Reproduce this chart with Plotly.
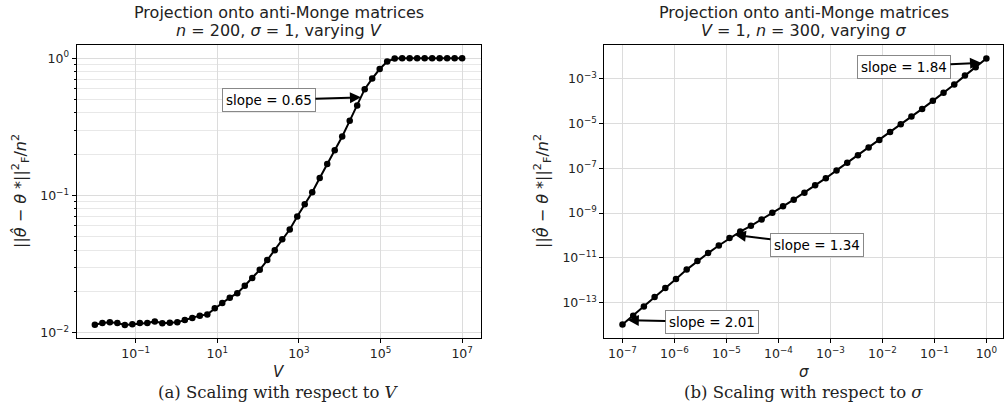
import numpy as np
import plotly.graph_objects as go

# ---------------- data ----------------
V_values = list(np.logspace(-2, 7, 50))
err_V_log10 = [-1.942, -1.930, -1.925, -1.930, -1.944, -1.939, -1.930, -1.930, -1.918, -1.932,
               -1.927, -1.925, -1.908, -1.893, -1.876, -1.867, -1.823, -1.784, -1.745, -1.712,
               -1.658, -1.602, -1.542, -1.471, -1.399, -1.319, -1.248, -1.154, -1.064, -0.976,
               -0.873, -0.771, -0.671, -0.570, -0.456, -0.344, -0.225, -0.148, -0.078, -0.024,
               -0.002, 0.0, 0.0, 0.0, 0.0, 0.0, 0.0, 0.0, 0.0, 0.0]
err_V = [10 ** v for v in err_V_log10]

sigma_values = list(np.logspace(-7, 0, 35))
err_s_log10 = [-13.99, -13.59, -13.18, -12.76, -12.35, -11.95, -11.53, -11.15, -10.79, -10.45,
               -10.12, -9.83, -9.57, -9.29, -8.99, -8.70, -8.40, -8.09, -7.76, -7.44,
               -7.09, -6.75, -6.41, -6.07, -5.73, -5.37, -5.03, -4.68, -4.34, -3.98,
               -3.62, -3.25, -2.85, -2.47, -2.08]
err_s = [10 ** v for v in err_s_log10]

# tick labels
xV_tickvals = [1e-1, 1e1, 1e3, 1e5, 1e7]
xV_ticktext = ["10<sup>−1</sup>", "10<sup>1</sup>", "10<sup>3</sup>", "10<sup>5</sup>", "10<sup>7</sup>"]
yV_tickvals = [1e-2, 1e-1, 1e0]
yV_ticktext = ["10<sup>−2</sup>", "10<sup>−1</sup>", "10<sup>0</sup>"]
xs_tickvals = [1e-7, 1e-6, 1e-5, 1e-4, 1e-3, 1e-2, 1e-1, 1e0]
xs_ticktext = ["10<sup>−7</sup>", "10<sup>−6</sup>", "10<sup>−5</sup>", "10<sup>−4</sup>",
               "10<sup>−3</sup>", "10<sup>−2</sup>", "10<sup>−1</sup>", "10<sup>0</sup>"]
ys_tickvals = [1e-13, 1e-11, 1e-9, 1e-7, 1e-5, 1e-3]
ys_ticktext = ["10<sup>−13</sup>", "10<sup>−11</sup>", "10<sup>−9</sup>", "10<sup>−7</sup>",
               "10<sup>−5</sup>", "10<sup>−3</sup>"]

# annotations: (label, index of segment start, text offset x, offset y)
ann_V = [("slope = 0.65", 35, -92, 3)]
ann_s = [("slope = 1.84", 33, -77, 4), ("slope = 1.34", 10, 82, 10), ("slope = 2.01", 0, 84, 2)]

# ---------------- figure ----------------
FONT = "DejaVu Sans"
W, H = 1005, 415
fig = go.Figure()

line_style = dict(color="black", width=2)
marker_style = dict(color="black", size=6.5)

fig.add_trace(go.Scatter(x=V_values, y=err_V, mode="lines+markers", line=line_style,
                         marker=marker_style, xaxis="x", yaxis="y", showlegend=False))
fig.add_trace(go.Scatter(x=sigma_values, y=err_s, mode="lines+markers", line=line_style,
                         marker=marker_style, xaxis="x2", yaxis="y2", showlegend=False))

grid_major = "#dcdcdc"
grid_minor = "#e8e8e8"


def yminor(lo, hi):
    vals = []
    for e in range(lo, hi):
        for m in range(2, 10):
            vals.append(m * 10 ** e)
    return vals


axis_common = dict(type="log", showline=True, mirror=True, linecolor="black", linewidth=1,
                   ticks="outside", ticklen=4, tickcolor="black", tickwidth=1,
                   showgrid=True, gridcolor=grid_major, gridwidth=1, zeroline=False,
                   automargin=False,
                   tickfont=dict(family=FONT, size=12.5, color="#222"))

y_dom = [(H - 338) / H, (H - 45) / H]
xl = [76.5, 480.5]
xr = [604.3, 1003.0]

fig.update_layout(
    width=W, height=H, margin=dict(l=0, r=0, t=0, b=0, autoexpand=False),
    paper_bgcolor="white", plot_bgcolor="white",
    font=dict(family=FONT, color="#222"),
    xaxis=dict(axis_common, domain=[xl[0] / W, xl[1] / W], range=[-2.45, 7.45],
               tickmode="array", tickvals=xV_tickvals, ticktext=xV_ticktext, anchor="y"),
    yaxis=dict(axis_common, domain=y_dom, range=[-2.039, 0.097], anchor="x",
               tickmode="array", tickvals=yV_tickvals, ticktext=yV_ticktext,
               minor=dict(tickvals=yminor(-2, 0), ticks="outside", ticklen=2,
                          tickcolor="black", showgrid=True, gridcolor=grid_minor)),
    xaxis2=dict(axis_common, domain=[xr[0] / W, xr[1] / W], range=[-7.35, 0.32],
                tickmode="array", tickvals=xs_tickvals, ticktext=xs_ticktext, anchor="y2"),
    yaxis2=dict(axis_common, domain=y_dom, range=[-14.59, -1.48], anchor="x2",
                tickmode="array", tickvals=ys_tickvals, ticktext=ys_ticktext),
)

annotations = []


def add_slope_ann(xs, ys, items, xref, yref):
    for text, i, ax, ay in items:
        lx = (np.log10(xs[i]) + np.log10(xs[i + 1])) / 2
        ly = (np.log10(ys[i]) + np.log10(ys[i + 1])) / 2
        annotations.append(dict(x=lx, y=ly, xref=xref, yref=yref, text=text, showarrow=True,
                                ax=ax, ay=ay, axref="pixel", ayref="pixel",
                                arrowhead=2, arrowsize=1.1, arrowwidth=2, arrowcolor="black",
                                bgcolor="white", bordercolor="#888", borderwidth=1, borderpad=3,
                                font=dict(family=FONT, size=13.5, color="black")))


add_slope_ann(V_values, err_V, ann_V, "x", "y")
add_slope_ann(sigma_values, err_s, ann_s, "x2", "y2")


def paper_text(xpx, ypx, text, size, family=FONT, angle=0):
    annotations.append(dict(x=xpx / W, y=1 - ypx / H, xref="paper", yref="paper", text=text,
                            showarrow=False, xanchor="center", yanchor="middle",
                            textangle=angle,
                            font=dict(family=family, size=size, color="#222")))


cl = (xl[0] + xl[1]) / 2
cr = (xr[0] + xr[1]) / 2
# titles
paper_text(cl, 13, "Projection onto anti-Monge matrices", 16)
paper_text(cl, 31, "<i>n</i> = 200, <i>σ</i> = 1, varying <i>V</i>", 16)
paper_text(cr, 13, "Projection onto anti-Monge matrices", 16)
paper_text(cr, 31, "<i>V</i> = 1, <i>n</i> = 300, varying <i>σ</i>", 16)
# axis labels
paper_text(cl, 372, "<i>V</i>", 15)
paper_text(cr, 372, "<i>σ</i>", 15)
ylab = "||<i>θ̂</i> − <i>θ</i> *||<sup>2</sup><sub>F</sub>/<i>n</i><sup>2</sup>"
paper_text(20, 191, ylab, 16, angle=-90)
paper_text(542, 191, ylab, 16, angle=-90)
# captions
paper_text(cl, 392, "(a) Scaling with respect to <i>V</i>", 16.5, family="DejaVu Serif")
paper_text(cr, 392, "(b) Scaling with respect to <i>σ</i>", 16.5, family="DejaVu Serif")

fig.update_layout(annotations=annotations)
fig.write_html("out.html", config={"displayModeBar": False},
               post_script="document.body.style.margin='0';document.body.style.padding='0';")
